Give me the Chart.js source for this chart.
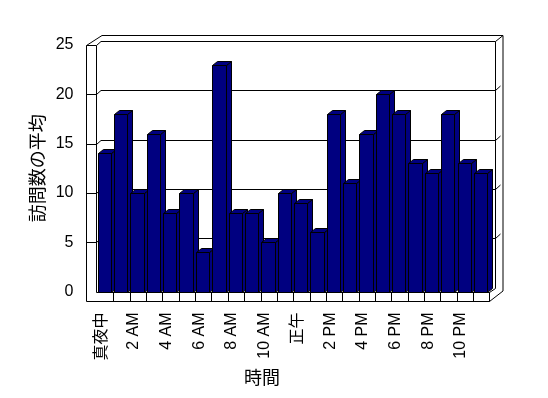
<!DOCTYPE html>
<html>
<head>
<meta charset="utf-8">
<script src="https://cdn.jsdelivr.net/npm/chart.js@4/dist/chart.umd.min.js"></script>
<style>
  body { margin: 0; background: #fff; }
</style>
</head>
<body>
<canvas id="visitsChart" width="548" height="398"></canvas>
<script>
// heures de la journée (une étiquette sur deux est affichée)
const hours = ['真夜中', '1 AM', '2 AM', '3 AM', '4 AM', '5 AM', '6 AM', '7 AM', '8 AM', '9 AM', '10 AM', '11 AM',
    '正午', '1 PM', '2 PM', '3 PM', '4 PM', '5 PM', '6 PM', '7 PM', '8 PM', '9 PM', '10 PM', '11 PM'];
// nombre moyen de visites par heure
const visits = [14, 18, 10, 16, 8, 10, 4, 23, 8, 8, 5, 10, 9, 6, 18, 11, 16, 20, 18, 13, 12, 18, 13, 12];
const yTicks = [0, 5, 10, 15, 20, 25];
const xTitle = '時間';
const yTitle = '訪問数の平均';

const NAVY = '#000080';
const px = v => Math.round(v) + 0.5;

// murs, sol et lignes de grille en fausse 3D
const frame3d = {
    id: 'frame3d',
    beforeDatasetsDraw(chart) {
        const { ctx, chartArea: a, scales: { x, y } } = chart;
        const X0 = px(a.left - 11);
        const L = px(a.left - 1);
        const R = px(a.right + 5);
        const yTop = px(y.getPixelForValue(yTicks[yTicks.length - 1]));
        const y0 = px(y.getPixelForValue(0));
        const yFloor = y0 + 9;
        ctx.save();
        ctx.strokeStyle = '#000';
        ctx.lineWidth = 1;
        ctx.beginPath();
        // grille : face avant du mur gauche, mur du fond, mur droit
        yTicks.forEach((v, i) => {
            if (v === 0) return;
            const yy = px(y.getPixelForValue(v));
            ctx.moveTo(X0, yy);
            ctx.lineTo(L, yy);
            ctx.lineTo(L + 4.5, yy - 4);
            ctx.lineTo(R, yy - 4);
            if (i === yTicks.length - 1) ctx.lineTo(R + 7.5, yy - 10);
            else ctx.lineTo(R + 5, yy - 8.5);
        });
        // contour extérieur
        ctx.moveTo(X0, yTop);
        ctx.lineTo(X0 + 15.5, yTop - 10);
        ctx.lineTo(R + 7.5, yTop - 10);
        ctx.lineTo(R + 7.5, y0 - 1.5);
        ctx.lineTo(R - 6, yFloor);
        ctx.lineTo(X0, yFloor);
        ctx.closePath();
        // arêtes intérieures
        ctx.moveTo(L, yTop); ctx.lineTo(L, y0);
        ctx.moveTo(R, yTop - 4); ctx.lineTo(R, y0 - 4);
        ctx.moveTo(L, y0); ctx.lineTo(R - 6, y0);
        ctx.lineTo(R - 6, yFloor);
        ctx.moveTo(R - 6, y0); ctx.lineTo(R, y0 - 4);
        // graduations de catégories sur le bord du sol
        const cw = (a.right - a.left) / hours.length;
        for (let i = 1; i <= hours.length; i++) {
            const xx = px(x.getPixelForValue(i - 1) + cw / 2);
            ctx.moveTo(xx, y0);
            ctx.lineTo(xx, yFloor);
        }
        ctx.stroke();
        ctx.restore();
    },
    afterDatasetsDraw(chart) {
        const { ctx } = chart;
        const meta = chart.getDatasetMeta(0);
        const dx = 5, dy = -4;
        ctx.save();
        ctx.strokeStyle = '#000';
        ctx.fillStyle = NAVY;
        ctx.lineWidth = 1;
        meta.data.forEach(el => {
            const p = el.getProps(['x', 'y', 'base', 'width'], true);
            const l = px(p.x - p.width / 2 - 0.8);
            const r = px(p.x + p.width / 2 - 0.8);
            const t = px(p.y);
            const b = px(p.base);
            // côté
            ctx.beginPath();
            ctx.moveTo(r, t); ctx.lineTo(r + dx, t + dy);
            ctx.lineTo(r + dx, b + dy); ctx.lineTo(r, b);
            ctx.closePath(); ctx.fill(); ctx.stroke();
            // dessus
            ctx.beginPath();
            ctx.moveTo(l, t); ctx.lineTo(l + dx, t + dy);
            ctx.lineTo(r + dx, t + dy); ctx.lineTo(r, t);
            ctx.closePath(); ctx.fill(); ctx.stroke();
            // face avant
            ctx.beginPath();
            ctx.rect(l, t, r - l, b - t);
            ctx.fill(); ctx.stroke();
        });
        ctx.restore();
    },
    // titre de l'axe X, décalé à gauche comme dans Excel
    afterDraw(chart) {
        const { ctx, chartArea: a } = chart;
        ctx.save();
        ctx.fillStyle = '#000';
        ctx.font = "18px 'Noto Sans CJK JP'";
        ctx.textAlign = 'center';
        ctx.textBaseline = 'middle';
        ctx.fillText(xTitle, a.left + 165, 377);
        ctx.restore();
    }
};

const config = {
    type: 'bar',
    data: {
        labels: hours,
        datasets: [{
            label: yTitle,
            data: visits,
            backgroundColor: 'rgba(0,0,0,0)',
            borderWidth: 0,
            barPercentage: 0.815,
            categoryPercentage: 1
        }]
    },
    options: {
        responsive: false,
        animation: false,
        layout: { padding: { top: 45, left: 20, right: 58.5, bottom: 0 } },
        plugins: {
            legend: { display: false },
            tooltip: { enabled: false }
        },
        scales: {
            x: {
                grid: { display: false, drawTicks: false },
                border: { display: false },
                afterFit: s => { s.height = 106.5; },
                ticks: {
                    autoSkip: false,
                    maxRotation: 90,
                    minRotation: 90,
                    padding: 21,
                    labelOffset: -4,
                    color: '#000',
                    font: { family: "'Liberation Sans', 'Noto Sans CJK JP'", size: 16 },
                    callback: (v, i) => (i % 2 ? '' : hours[i])
                }
            },
            y: {
                min: 0,
                max: 25,
                grid: { display: false, drawTicks: false },
                border: { display: false },
                afterFit: s => { s.width = 77; },
                ticks: {
                    stepSize: 5,
                    padding: 23.5,
                    color: '#000',
                    font: { family: "'Liberation Sans'", size: 16 }
                },
                title: {
                    display: true,
                    text: yTitle,
                    color: '#000',
                    padding: { top: 6, bottom: 0 },
                    font: { family: "'Noto Sans CJK JP'", size: 18 }
                }
            }
        }
    },
    plugins: [frame3d]
};

const visitsChart = new Chart(document.getElementById('visitsChart'), config);
</script>
</body>
</html>
